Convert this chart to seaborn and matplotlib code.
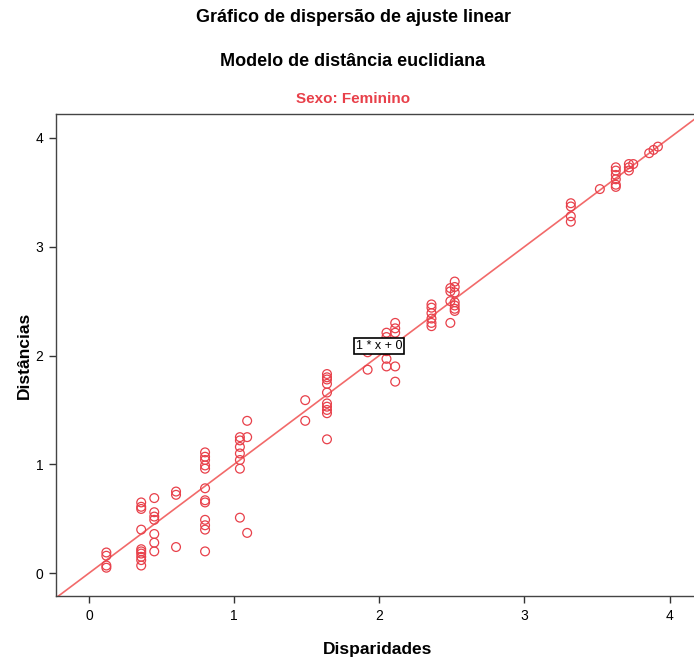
import matplotlib
matplotlib.use("Agg")
import matplotlib.pyplot as plt
import seaborn as sns
import pandas as pd
import numpy as np

# ---- data ----
disparidades = (
    [0.12] * 4 + [0.36] * 10 + [0.45] * 7 + [0.60] * 3 + [0.80] * 12 +
    [1.04] * 7 + [1.09] * 3 + [1.49] * 2 + [1.64] * 10 + [1.92] * 2 +
    [2.05] * 5 + [2.11] * 5 + [2.36] * 6 + [2.49] * 4 + [2.52] * 7 +
    [3.32] * 4 + [3.52] + [3.63] * 6 + [3.72] * 3 + [3.75] + [3.86] + [3.89] + [3.92]
)
distancias = (
    [0.19, 0.16, 0.07, 0.05] +
    [0.65, 0.61, 0.59, 0.40, 0.22, 0.20, 0.18, 0.15, 0.12, 0.07] +
    [0.69, 0.56, 0.52, 0.49, 0.36, 0.28, 0.20] +
    [0.75, 0.72, 0.24] +
    [1.11, 1.07, 1.04, 0.99, 0.96, 0.78, 0.67, 0.65, 0.49, 0.44, 0.40, 0.20] +
    [1.25, 1.22, 1.16, 1.10, 1.04, 0.96, 0.51] +
    [1.40, 1.25, 0.37] +
    [1.59, 1.40] +
    [1.83, 1.80, 1.78, 1.74, 1.66, 1.56, 1.53, 1.50, 1.47, 1.23] +
    [2.03, 1.87] +
    [2.21, 2.17, 2.04, 1.97, 1.90] +
    [2.30, 2.25, 2.21, 1.90, 1.76] +
    [2.47, 2.44, 2.39, 2.34, 2.30, 2.27] +
    [2.62, 2.59, 2.50, 2.30] +
    [2.68, 2.63, 2.58, 2.49, 2.46, 2.43, 2.41] +
    [3.40, 3.37, 3.28, 3.23] +
    [3.53] +
    [3.73, 3.70, 3.66, 3.62, 3.57, 3.55] +
    [3.76, 3.73, 3.70] +
    [3.76] + [3.86] + [3.89] + [3.92]
)
fit_slope = 1.0
fit_intercept = 0.0
fit_label = "1 * x + 0"
x_ticks = [0, 1, 2, 3, 4]
y_ticks = [0, 1, 2, 3, 4]

title1 = "Gráfico de dispersão de ajuste linear"
title2 = "Modelo de distância euclidiana"
subtitle = "Sexo: Feminino"
xlabel = "Disparidades"
ylabel = "Distâncias"

# ---- style ----
sns.set_style("white")
FONT = ["Liberation Sans Narrow", "Liberation Sans", "DejaVu Sans"]
plt.rcParams["font.family"] = FONT
plt.rcParams["text.color"] = "black"
plt.rcParams["axes.labelcolor"] = "black"
plt.rcParams["xtick.color"] = "black"
plt.rcParams["ytick.color"] = "black"

marker_col = "#e8404a"
line_col = "#f26a6a"

df = pd.DataFrame({"Disparidades": disparidades, "Distancias": distancias})

fig = plt.figure(figsize=(6.94, 6.62), dpi=100)
W, H = 694, 662
left, right, top, bottom = 56, 700, 114, 596
ax = fig.add_axes([left / W, (H - bottom) / H, (right - left) / W, (bottom - top) / H])

xlim = (-0.227, 4.21)
ylim = (-0.21, 4.22)

# fit line across the axis
xs = np.array(xlim)
line_df = pd.DataFrame({"x": xs, "y": fit_slope * xs + fit_intercept})
sns.lineplot(data=line_df, x="x", y="y", ax=ax, color=line_col, linewidth=1.2, zorder=2)

sns.scatterplot(data=df, x="Disparidades", y="Distancias", ax=ax, marker="o",
                s=40, facecolors="none", edgecolor=marker_col, linewidth=0.9, zorder=3)

ax.set_xlim(*xlim)
ax.set_ylim(*ylim)
ax.set_xticks(x_ticks)
ax.set_yticks(y_ticks)
ax.set_xticklabels([str(t) for t in x_ticks], fontsize=10)
ax.set_yticklabels([str(t) for t in y_ticks], fontsize=10)
ax.tick_params(axis="both", direction="out", length=5, width=1, color="#333333", pad=4,
               bottom=True, left=True)
for side in ["left", "bottom", "top"]:
    ax.spines[side].set_color("#444444")
    ax.spines[side].set_linewidth(1.0)
ax.spines["right"].set_visible(False)

ax.set_xlabel(xlabel, fontsize=12.5, fontweight="bold", labelpad=14)
ax.set_ylabel(ylabel, fontsize=12.5, fontweight="bold", labelpad=3)

# fit label box
ax.text(2.0, 2.09, fit_label, fontsize=9, ha="center", va="center", zorder=5,
        bbox=dict(boxstyle="square,pad=0.15", facecolor="white", edgecolor="black", linewidth=1.2))

# titles
fig.text(353 / W, 1 - 18 / H, title1, ha="center", va="center", fontsize=13, fontweight="bold")
fig.text(353 / W, 1 - 61 / H, title2, ha="center", va="center", fontsize=13, fontweight="bold")
fig.text(353 / W, 1 - 99 / H, subtitle, ha="center", va="center", fontsize=11,
         fontweight="bold", color=marker_col)

fig.savefig("out.png", dpi=100)
